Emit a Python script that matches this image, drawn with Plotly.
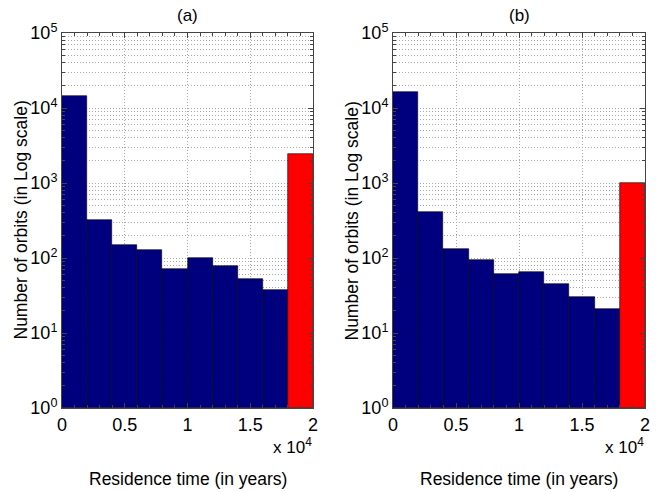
import plotly.graph_objects as go

bin_edges = [0, 2000, 4000, 6000, 8000, 10000, 12000, 14000, 16000, 18000, 20000]
counts_a = [14500, 325, 146, 125, 71, 100, 77, 51, 37, 2460]
counts_b = [16300, 406, 131, 93, 60, 65, 44, 29, 20, 990]
bar_colors = ["#00007f"] * 9 + ["#ff0000"]
x_tick_vals = [0, 5000, 10000, 15000, 20000]
x_tick_text = ["0", "0.5", "1", "1.5", "2"]
y_tick_vals = [1, 10, 100, 1000, 10000, 100000]
y_tick_text = ["10<sup>%d</sup>" % i for i in range(6)]
y_minor_vals = [m * 10 ** e for e in range(5) for m in range(2, 10)]
titles = ["(a)", "(b)"]
x_label = "Residence time (in years)"
y_label = "Number of orbits (in Log scale)"

centers = [(bin_edges[i] + bin_edges[i + 1]) / 2 for i in range(len(bin_edges) - 1)]
widths = [bin_edges[i + 1] - bin_edges[i] for i in range(len(bin_edges) - 1)]

W, H = 665, 492


def px(x):
    return x / W


def py(y):
    return (H - y) / H


FONT = "Liberation Sans, Arial, sans-serif"
GRID = "#a8a8a8"
GDASH = "1px,2px"
AX = "#444444"
fig = go.Figure()

panels = [
    (counts_a, "x", "y", (62, 313), 21),
    (counts_b, "x2", "y2", (393, 645), 352),
]
ytop, ybot = 33, 408
for k, (counts, xa, ya, (p0, p1), ylab_x) in enumerate(panels):
    fig.add_trace(go.Bar(
        x=centers, y=counts, width=widths, xaxis=xa, yaxis=ya,
        marker=dict(color=bar_colors, line=dict(color="#000000", width=0.6)),
        showlegend=False, base=1,
    ))
    sfx = "" if k == 0 else "2"
    common_x = dict(
        domain=[px(p0), px(p1)], range=[0, 20000], automargin=False,
        tickvals=x_tick_vals, ticktext=x_tick_text,
        showgrid=True, gridcolor=GRID, griddash=GDASH, gridwidth=1,
        showline=True, linecolor=AX, linewidth=1, mirror="allticks",
        ticks="inside", ticklen=5, tickcolor=AX,
        minor=dict(dtick=1000, ticks="inside", ticklen=3, tickcolor=AX, showgrid=False),
        zeroline=False, anchor="y" + sfx,
        tickfont=dict(size=18, color="#000000", family=FONT),
    )
    common_y = dict(
        type="log", domain=[py(ybot), py(ytop)], range=[0, 5], automargin=False,
        tickvals=y_tick_vals, ticktext=y_tick_text,
        showgrid=True, gridcolor=GRID, griddash=GDASH, gridwidth=1,
        showline=True, linecolor=AX, linewidth=1, mirror="allticks",
        ticks="inside", ticklen=5, tickcolor=AX,
        minor=dict(tickvals=y_minor_vals, ticks="inside", ticklen=3, tickcolor=AX,
                   showgrid=True, gridcolor=GRID, griddash=GDASH, gridwidth=1),
        zeroline=False, anchor="x" + sfx,
        tickfont=dict(size=18, color="#000000", family=FONT),
    )
    fig.update_layout(**{"xaxis" + sfx: common_x, "yaxis" + sfx: common_y})
    fig.add_annotation(text=titles[k], x=px((p0 + p1) / 2), y=py(16),
                       xref="paper", yref="paper", showarrow=False,
                       xanchor="center", yanchor="middle",
                       font=dict(size=17, color="#000000", family=FONT))
    fig.add_annotation(text="x 10<sup>4</sup>", x=px(p1 + 1), y=py(446),
                       xref="paper", yref="paper", showarrow=False, xanchor="right",
                       yanchor="middle",
                       font=dict(size=17, color="#000000", family=FONT))
    fig.add_annotation(text=x_label, x=px((p0 + p1) / 2), y=py(479),
                       xref="paper", yref="paper", showarrow=False,
                       xanchor="center", yanchor="middle",
                       font=dict(size=17.5, color="#000000", family=FONT))
    fig.add_annotation(text=y_label, x=px(ylab_x), y=py((ytop + ybot) / 2),
                       xref="paper", yref="paper", showarrow=False, textangle=-90,
                       xanchor="center", yanchor="middle",
                       font=dict(size=17.5, color="#000000", family=FONT))

fig.update_layout(
    width=W, height=H, margin=dict(l=0, r=0, t=0, b=0),
    paper_bgcolor="white", plot_bgcolor="white", bargap=0,
    font=dict(family=FONT),
)
fig.write_html(
    "out.html",
    config={"displayModeBar": False},
    post_script="document.body.style.margin='0px';document.body.style.overflow='hidden';",
)
